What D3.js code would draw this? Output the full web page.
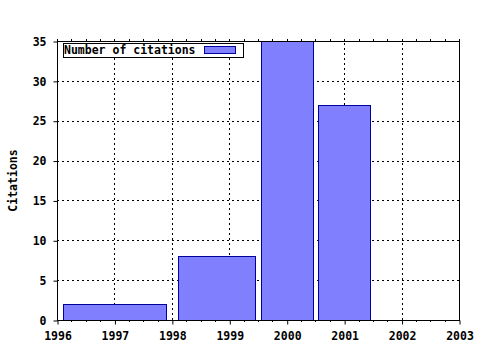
<!DOCTYPE html>
<html>
<head>
<meta charset="utf-8">
<script src="https://cdn.jsdelivr.net/npm/d3@7"></script>
<style>
  body { margin: 0; background: #fff; }
  text { font-family: "DejaVu Sans Mono", monospace; font-weight: bold; font-size: 11.5px; fill: #000; }
</style>
</head>
<body>
<div id="chart"></div>
<script>
// bars are boxes spanning [start, end] years
var barStart = [1996.1, 1998.1, 1999.55, 2000.55];
var barEnd = [1997.9, 1999.45, 2000.45, 2001.45];
var citations = [2, 8, 35, 27];
var xTicks = [1996, 1997, 1998, 1999, 2000, 2001, 2002, 2003];
var yTicks = [0, 5, 10, 15, 20, 25, 30, 35];
var legendLabel = "Number of citations";

var width = 480, height = 350;
var margin = { top: 41, right: 21, bottom: 30, left: 57 };

var svg = d3.select("#chart").append("svg")
  .attr("width", width)
  .attr("height", height);

var x = d3.scaleLinear().domain([1996, 2003]).range([margin.left, width - margin.right]);
var y = d3.scaleLinear().domain([0, 35]).range([height - margin.bottom, margin.top]);

// grid
svg.append("g").selectAll("line")
  .data(yTicks.slice(1, -1))
  .join("line")
  .attr("x1", x(1996)).attr("x2", x(2003))
  .attr("y1", d => Math.round(y(d)) + 0.5).attr("y2", d => Math.round(y(d)) + 0.5)
  .attr("stroke", "#000").attr("stroke-width", 1).attr("stroke-dasharray", "2,3");

svg.append("g").selectAll("line")
  .data(xTicks.slice(1, -1))
  .join("line")
  .attr("x1", d => Math.round(x(d)) + 0.5).attr("x2", d => Math.round(x(d)) + 0.5)
  .attr("y1", y(0)).attr("y2", y(35))
  .attr("stroke", "#000").attr("stroke-width", 1).attr("stroke-dasharray", "2,3");

// bars
svg.append("g").selectAll("rect")
  .data(citations)
  .join("rect")
  .attr("x", (d, i) => Math.round(x(barStart[i])) + 0.5)
  .attr("width", (d, i) => Math.round(x(barEnd[i])) - Math.round(x(barStart[i])))
  .attr("y", d => Math.round(y(d)) + 0.5)
  .attr("height", d => Math.round(y(0)) - Math.round(y(d)))
  .attr("fill", "#8080ff")
  .attr("stroke", "#0000a0")
  .attr("stroke-width", 1);

// axes
var xBottom = d3.axisBottom(x).tickValues(xTicks).tickFormat(d3.format("d")).tickSize(4).tickPadding(7);
var gx = svg.append("g").attr("transform", `translate(0.5,${Math.round(y(0)) + 0.5})`).call(xBottom);
gx.select(".domain").remove();

var minor = d3.range(1996, 2003.01, 0.25).filter(d => Math.abs(d - Math.round(d)) > 0.01);
svg.append("g").selectAll("line")
  .data(minor)
  .join("line")
  .attr("x1", d => Math.round(x(d)) + 0.5).attr("x2", d => Math.round(x(d)) + 0.5)
  .attr("y1", y(0)).attr("y2", y(0) + 2)
  .attr("stroke", "#000");

svg.append("g").selectAll("line")
  .data(minor.concat(xTicks))
  .join("line")
  .attr("x1", d => Math.round(x(d)) + 0.5).attr("x2", d => Math.round(x(d)) + 0.5)
  .attr("y1", y(35) - 2).attr("y2", y(35))
  .attr("stroke", "#000");

var yLeft = d3.axisLeft(y).tickValues(yTicks).tickSize(4).tickPadding(7);
var gy = svg.append("g").attr("transform", `translate(${Math.round(x(1996)) + 0.5},0.5)`).call(yLeft);
gy.select(".domain").remove();

svg.selectAll(".tick text").attr("font-family", null).attr("font-size", null);
svg.selectAll(".tick line").attr("stroke", "#000");

// border
svg.append("rect")
  .attr("x", Math.round(x(1996)) + 0.5).attr("y", Math.round(y(35)) + 0.5)
  .attr("width", Math.round(x(2003)) - Math.round(x(1996)))
  .attr("height", Math.round(y(0)) - Math.round(y(35)))
  .attr("fill", "none").attr("stroke", "#000");

// y label
svg.append("text")
  .attr("transform", `translate(17,${(y(0) + y(35)) / 2}) rotate(-90)`)
  .attr("text-anchor", "middle")
  .text("Citations");

// legend
var lg = svg.append("g");
lg.append("rect")
  .attr("x", 63.5).attr("y", 43.5).attr("width", 180).attr("height", 14)
  .attr("fill", "#fff").attr("stroke", "#000");
lg.append("text").attr("x", 64).attr("y", 54).text(legendLabel);
lg.append("rect")
  .attr("x", 204.5).attr("y", 46.5).attr("width", 31).attr("height", 7)
  .attr("fill", "#8080ff").attr("stroke", "#0000a0");
</script>
</body>
</html>
